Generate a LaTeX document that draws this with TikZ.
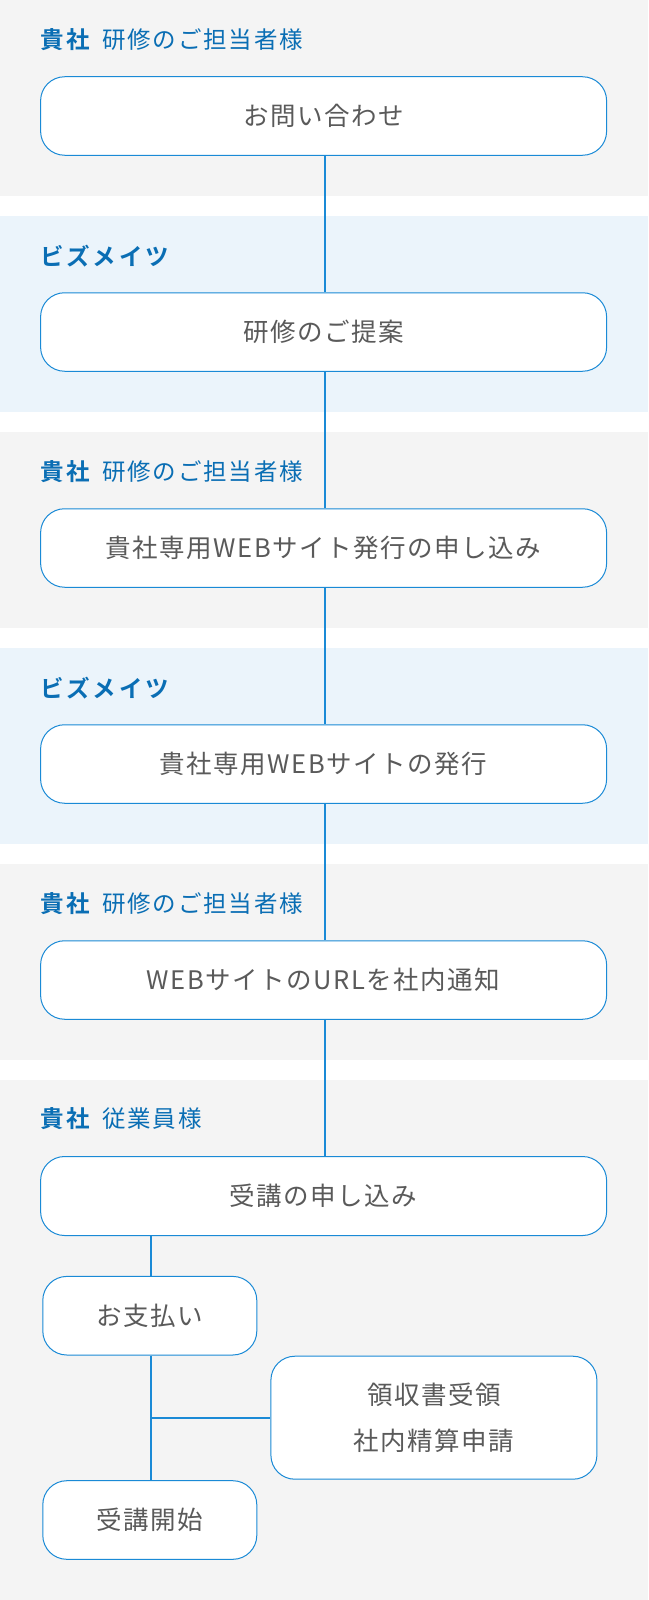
\documentclass[tikz,border=0pt]{standalone}
\usepackage{fontspec}
\setmainfont{Noto Sans CJK JP}
\newfontfamily\cajafont[LetterSpace=6]{Noto Sans CJK JP}
\newfontfamily\titfont[LetterSpace=8]{Noto Sans CJK JP}
\newfontfamily\titbfont[LetterSpace=12]{Noto Sans CJK JP Bold}

\definecolor{azultit}{HTML}{0A6EB4}
\definecolor{azulcaja}{HTML}{1A8AD6}
\definecolor{gristexto}{HTML}{5A5A5A}
\definecolor{grisfondo}{HTML}{F4F4F4}
\definecolor{azulfondo}{HTML}{EBF4FB}

\tikzset{
  caja/.style={draw=azulcaja, line width=1pt, fill=white, rounded corners=24pt,
    minimum height=78.5pt, inner sep=0pt, text=gristexto,
    font=\cajafont\fontsize{25.5}{30}\selectfont},
  ancha/.style={caja, minimum width=566pt},
  corta/.style={caja, minimum width=214pt, minimum height=78.6pt},
  titulo/.style={anchor=west, inner sep=0pt, text=azultit,
    font=\fontsize{23.5}{28}\selectfont},
  linea/.style={draw=azulcaja, line width=1.8pt}
}

\begin{document}
\begin{tikzpicture}[x=1pt,y=-1pt]
  \useasboundingbox (0,0) rectangle (648,1600);
  \fill[white] (0,0) rectangle (648,1600);

  % Fondos
  \fill[grisfondo] (0,0) rectangle (648,196);
  \fill[azulfondo] (0,216) rectangle (648,412);
  \fill[grisfondo] (0,432) rectangle (648,628);
  \fill[azulfondo] (0,648) rectangle (648,844);
  \fill[grisfondo] (0,864) rectangle (648,1060);
  \fill[grisfondo] (0,1080) rectangle (648,1600);

  % Titulos
  \node[titulo] (t1) at (40,40) {{\titbfont 貴社}\hspace{12pt}{\titfont 研修のご担当者様}};
  \node[titulo] (t2) at (40,256) {\titbfont ビズメイツ};
  \node[titulo] (t3) at (40,472) {{\titbfont 貴社}\hspace{12pt}{\titfont 研修のご担当者様}};
  \node[titulo] (t4) at (40,688) {\titbfont ビズメイツ};
  \node[titulo] (t5) at (40,904) {{\titbfont 貴社}\hspace{12pt}{\titfont 研修のご担当者様}};
  \node[titulo] (t6) at (40,1118.5) {{\titbfont 貴社}\hspace{12pt}{\titfont 従業員様}};

  % Cajas
  \node[ancha] (c1) at (323.6,116) {お問い合わせ};
  \node[ancha] (c2) at (323.6,332) {研修のご提案};
  \node[ancha] (c3) at (323.6,548) {貴社専用WEBサイト発行の申し込み};
  \node[ancha] (c4) at (323.6,764) {貴社専用WEBサイトの発行};
  \node[ancha] (c5) at (323.6,980) {WEBサイトのURLを社内通知};
  \node[ancha, minimum height=79pt] (c6) at (323.6,1196) {受講の申し込み};

  \node[corta] (pago) at (149.8,1315.7) {お支払い};
  \node[corta] (inicio) at (149.8,1520) {受講開始};
  \node[caja, minimum width=326pt, minimum height=123pt, align=center,
    font=\cajafont\fontsize{25.5}{46.5}\selectfont] (recibo) at (433.9,1417.7)
    {領収書受領\\社内精算申請};

  % Conectores
  \foreach \a/\b in {c1/c2,c2/c3,c3/c4,c4/c5,c5/c6}
    \draw[linea] ([xshift=1.4pt]\a.south) -- ([xshift=1.4pt]\b.north);
  \draw[linea] ([xshift=1pt]pago.north |- c6.south) -- ([xshift=1pt]pago.north);
  \draw[linea] ([xshift=1pt]pago.south) -- ([xshift=1pt]inicio.north);
  \draw[linea] ([xshift=1pt]recibo.west -| pago.south) -- (recibo.west);
\end{tikzpicture}
\end{document}
